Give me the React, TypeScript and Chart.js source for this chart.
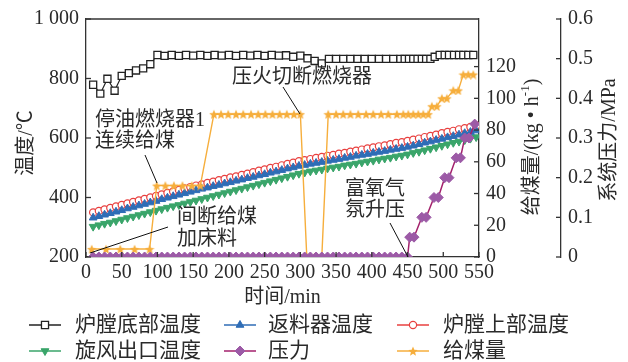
import React, { useEffect, useRef } from 'react';
import { Chart, registerables } from 'chart.js';
import { drawPoint } from 'chart.js/helpers';

Chart.register(...registerables);

const FONT = '"Liberation Serif", "Noto Sans CJK SC", serif';
const TEXT = '#2a2a2a';
const AXIS = '#333333';

// ---- data ----
const bottomTime = [10, 20, 30, 40, 50, 60, 70, 80, 90, 100, 110, 120, 130, 140, 150, 160, 170, 180, 190, 200, 210, 220, 230, 240, 250, 260, 270, 280, 290, 300, 310, 320, 330, 340, 350, 360, 370, 380, 390, 400, 410, 420, 430, 440, 446, 452, 458, 464, 470, 476, 482, 488, 495, 502, 508, 515, 522, 528, 535, 542];
const bottomTemp = [779, 749, 799, 759, 809, 818, 827, 834, 848, 879, 876, 879, 876, 879, 877, 879, 876, 879, 877, 879, 876, 879, 877, 879, 876, 879, 877, 878, 873, 877, 868, 859, 851, 866, 866, 866, 866, 866, 866, 866, 866, 866, 866, 866, 866, 866, 866, 866, 866, 866, 866, 873, 879, 879, 879, 879, 879, 879, 879, 879];

const tempTime = [10, 18, 26, 34, 42, 50, 58, 66, 74, 82, 90, 98, 106, 114, 122, 130, 138, 146, 154, 162, 170, 178, 186, 194, 202, 210, 218, 226, 234, 242, 250, 258, 266, 274, 282, 290, 298, 306, 314, 322, 330, 338, 346, 354, 362, 370, 378, 386, 394, 402, 410, 418, 426, 434, 442, 450, 458, 466, 474, 482, 490, 498, 506, 514, 522, 530, 538, 546];
const returnTemp = [332, 337, 342, 347, 352, 357, 363, 368, 373, 378, 383, 388, 394, 399, 404, 409, 414, 419, 424, 429, 433, 438, 442, 447, 451, 456, 460, 465, 469, 474, 478, 483, 487, 492, 497, 501, 506, 509, 513, 516, 519, 523, 526, 529, 533, 536, 540, 543, 546, 550, 553, 556, 560, 563, 566, 570, 574, 579, 584, 588, 593, 597, 602, 606, 611, 616, 620, 625];
const upperTemp = [350, 355, 360, 365, 370, 375, 380, 385, 390, 395, 400, 405, 410, 415, 420, 425, 430, 435, 440, 444, 449, 453, 458, 462, 467, 471, 476, 480, 485, 490, 494, 499, 503, 508, 513, 517, 522, 525, 529, 533, 536, 540, 543, 547, 550, 554, 557, 561, 565, 568, 572, 575, 579, 583, 586, 590, 594, 598, 603, 607, 611, 616, 620, 624, 629, 633, 637, 642];
const cycloneTemp = [302, 307, 312, 316, 321, 326, 331, 336, 341, 346, 351, 356, 361, 366, 371, 375, 380, 385, 390, 395, 400, 405, 410, 415, 420, 425, 430, 435, 440, 445, 450, 455, 460, 465, 470, 475, 480, 484, 488, 491, 494, 498, 501, 504, 508, 511, 514, 518, 521, 524, 528, 531, 534, 538, 541, 545, 550, 554, 559, 564, 569, 574, 579, 584, 588, 593, 598, 603];

const pressureTime = [10, 18, 26, 34, 42, 50, 58, 66, 74, 82, 90, 98, 106, 114, 122, 130, 138, 146, 154, 162, 170, 178, 186, 194, 202, 210, 218, 226, 234, 242, 250, 258, 266, 274, 282, 290, 298, 306, 314, 322, 330, 338, 346, 354, 362, 370, 378, 386, 394, 402, 410, 418, 426, 434, 442, 450, 453, 459, 470, 476, 487, 493, 502, 508, 518, 524, 530, 536, 544];
const pressure = [0, 0, 0, 0, 0, 0, 0, 0, 0, 0, 0, 0, 0, 0, 0, 0, 0, 0, 0, 0, 0, 0, 0, 0, 0, 0, 0, 0, 0, 0, 0, 0, 0, 0, 0, 0, 0, 0, 0, 0, 0, 0, 0, 0, 0, 0, 0, 0, 0, 0, 0, 0, 0, 0, 0, 0, 0.05, 0.05, 0.1, 0.1, 0.15, 0.15, 0.2, 0.2, 0.25, 0.25, 0.3, 0.3, 0.335];

const feedTime = [8, 28, 48, 68, 89, 99, 111, 123, 135, 148, 160, 179, 189, 199, 210, 220, 231, 241, 251, 261, 271, 281, 291, 300, 309, 320, 330, 339, 350, 360, 370, 381, 392, 402, 413, 423, 435, 444, 451, 458, 465, 472, 479, 484, 491, 498, 505, 514, 521, 528, 535, 542];
const feedRate = [5, 5, 5, 5, 5, 45, 45, 45, 45, 45, 45, 90, 90, 90, 90, 90, 90, 90, 90, 90, 90, 90, 90, 90, 0, 0, 0, 90, 90, 90, 90, 90, 90, 90, 90, 90, 90, 90, 90, 90, 90, 90, 90, 95, 95, 100, 100, 105, 105, 115, 115, 115];

const seriesNames = ['炉膛底部温度', '返料器温度', '炉膛上部温度', '旋风出口温度', '压力', '给煤量'];

const xMin = 0, xMax = 550, xStep = 50;
const tempMin = 200, tempMax = 1000, tempStep = 200;
const feedMin = 0, feedMax = 150, feedStep = 20, feedLastTick = 140;
const presMin = 0, presMax = 0.6, presStep = 0.1;

const BLACK = '#222222';
const BLUE = '#2f6db6';
const RED = '#e8403f';
const GREEN = '#3aa56a';
const PURPLE_LINE = '#a3216c';
const PURPLE = '#9c5aa6';
const ORANGE = '#f6ae3c';

const pts = (xs: number[], ys: number[]) => xs.map((x, i) => ({ x, y: ys[i] }));

function makeStar(size: number, color: string) {
  const c = document.createElement('canvas');
  c.width = size;
  c.height = size;
  const g = c.getContext('2d')!;
  const R = size / 2;
  const r = R * 0.45;
  g.beginPath();
  for (let i = 0; i < 10; i++) {
    const a = -Math.PI / 2 + (i * Math.PI) / 5;
    const rr = i % 2 === 0 ? R : r;
    g.lineTo(R + rr * Math.cos(a), R + 0.6 + rr * Math.sin(a));
  }
  g.closePath();
  g.fillStyle = color;
  g.fill();
  return c;
}

type Part = { t: string; size?: number; dy?: number };

function drawRotated(ctx: CanvasRenderingContext2D, parts: Part[], cx: number, cy: number) {
  ctx.save();
  ctx.translate(cx, cy);
  ctx.rotate(-Math.PI / 2);
  ctx.textAlign = 'left';
  ctx.textBaseline = 'middle';
  let total = 0;
  const widths = parts.map((p) => {
    ctx.font = `${p.size || 20}px ${FONT}`;
    const w = ctx.measureText(p.t).width;
    total += w;
    return w;
  });
  let x = -total / 2;
  parts.forEach((p, i) => {
    ctx.font = `${p.size || 20}px ${FONT}`;
    ctx.fillText(p.t, x, p.dy || 0);
    x += widths[i];
  });
  ctx.restore();
}

const overlay = {
  id: 'overlay',
  afterDraw(chart: any) {
    const ctx = chart.ctx as CanvasRenderingContext2D;
    const { left, right, top, bottom } = chart.chartArea;
    const sx = chart.scales.x;
    const sy = chart.scales.y;
    const s1 = chart.scales.y1;
    const s2 = chart.scales.y2;
    ctx.save();
    ctx.strokeStyle = AXIS;
    ctx.lineWidth = 1.3;
    const seg = (a: number, b: number, c: number, d: number) => {
      ctx.beginPath();
      ctx.moveTo(a, b);
      ctx.lineTo(c, d);
      ctx.stroke();
    };
    seg(left, top, right, top);
    const TL = 5;
    sx.ticks.forEach((t: any) => {
      const p = sx.getPixelForValue(t.value);
      seg(p, bottom, p, bottom - TL);
    });
    sy.ticks.forEach((t: any) => {
      const p = sy.getPixelForValue(t.value);
      seg(left, p, left + TL, p);
    });
    s1.ticks.forEach((t: any) => {
      const p = s1.getPixelForValue(t.value);
      seg(right, p, right - TL, p);
    });
    s2.ticks.forEach((t: any) => {
      const p = s2.getPixelForValue(t.value);
      seg(s2.left, p, s2.left - TL, p);
    });

    // axis titles
    ctx.fillStyle = TEXT;
    ctx.textAlign = 'center';
    ctx.textBaseline = 'middle';
    ctx.font = `20px ${FONT}`;
    ctx.fillText('时间/min', (left + right) / 2, 298);
    drawRotated(ctx, [{ t: '温度/℃' }], 27, 143);
    drawRotated(ctx, [{ t: '给煤量/(kg • h' }, { t: '-1', size: 13, dy: -7 }, { t: ')' }], 533, 147);
    drawRotated(ctx, [{ t: '系统压力/MPa' }], 610, 140);

    // annotations
    ctx.textAlign = 'left';
    ctx.font = `20px ${FONT}`;
    ctx.fillText('压火切断燃烧器', 232, 78);
    ctx.fillText('停油燃烧器1', 95, 121);
    ctx.fillText('连续给煤', 95, 142);
    ctx.fillText('间断给煤', 177, 218);
    ctx.fillText('加床料', 177, 240);
    ctx.fillText('富氧气', 345, 190);
    ctx.fillText('氛升压', 345, 211);
    ctx.strokeStyle = '#111';
    ctx.lineWidth = 1;
    seg(283, 87, 300, 114);
    seg(145, 155, 157, 183);
    seg(168, 227, 90, 253);
    seg(390, 223, 408, 257);

    // legend
    const cols = [
      { l0: 29, l1: 61, tx: 75 },
      { l0: 224, l1: 256, tx: 268 },
      { l0: 397, l1: 429, tx: 443 },
    ];
    const rows = [325, 351];
    const dsets = chart.data.datasets;
    ctx.font = `21px ${FONT}`;
    ctx.textBaseline = 'middle';
    dsets.forEach((ds: any, i: number) => {
      const col = cols[i % 3];
      const y = rows[Math.floor(i / 3)];
      ctx.strokeStyle = ds.borderColor;
      ctx.lineWidth = 1.5;
      seg(col.l0, y, col.l1, y);
      ctx.fillStyle = ds.pointBackgroundColor;
      ctx.strokeStyle = ds.pointBorderColor;
      ctx.lineWidth = ds.pointBorderWidth;
      drawPoint(ctx, {
        pointStyle: ds.pointStyle,
        rotation: ds.pointRotation || 0,
        radius: ds.pointRadius,
        borderWidth: ds.pointBorderWidth,
      } as any, (col.l0 + col.l1) / 2, y);
      ctx.fillStyle = TEXT;
      ctx.fillText(ds.label, col.tx, y);
    });
    ctx.restore();
  },
};

export default function App() {
  const ref = useRef<HTMLCanvasElement>(null);
  useEffect(() => {
    document.body.style.margin = '0';
    const star = makeStar(10, ORANGE);
    const tickFont = { family: FONT, size: 20 };
    const chart = new Chart(ref.current!, {
      type: 'line',
      data: {
        datasets: [
          {
            label: seriesNames[0],
            data: pts(bottomTime, bottomTemp),
            yAxisID: 'y',
            borderColor: BLACK,
            borderWidth: 1.2,
            pointStyle: 'rect',
            pointRadius: 5,
            pointBackgroundColor: '#ffffff',
            pointBorderColor: BLACK,
            pointBorderWidth: 1.3,
            order: 2,
          },
          {
            label: seriesNames[1],
            data: pts(tempTime, returnTemp),
            yAxisID: 'y',
            borderColor: BLUE,
            borderWidth: 1.2,
            pointStyle: 'triangle',
            pointRadius: 4.5,
            pointBackgroundColor: BLUE,
            pointBorderColor: BLUE,
            pointBorderWidth: 1,
            order: 3,
          },
          {
            label: seriesNames[2],
            data: pts(tempTime, upperTemp),
            yAxisID: 'y',
            borderColor: RED,
            borderWidth: 1.2,
            pointStyle: 'circle',
            pointRadius: 3.6,
            pointBackgroundColor: '#ffffff',
            pointBorderColor: RED,
            pointBorderWidth: 1.2,
            order: 4,
          },
          {
            label: seriesNames[3],
            data: pts(tempTime, cycloneTemp),
            yAxisID: 'y',
            borderColor: GREEN,
            borderWidth: 1.2,
            pointStyle: 'triangle',
            pointRotation: 180,
            pointRadius: 4.5,
            pointBackgroundColor: GREEN,
            pointBorderColor: GREEN,
            pointBorderWidth: 1,
            order: 5,
          },
          {
            label: seriesNames[4],
            data: pts(pressureTime, pressure),
            yAxisID: 'y2',
            borderColor: PURPLE_LINE,
            borderWidth: 1.5,
            pointStyle: 'rectRot',
            pointRadius: 5,
            pointBackgroundColor: PURPLE,
            pointBorderColor: PURPLE,
            pointBorderWidth: 1,
            order: 0,
          },
          {
            label: seriesNames[5],
            data: pts(feedTime, feedRate),
            yAxisID: 'y1',
            borderColor: ORANGE,
            borderWidth: 1.4,
            pointStyle: star as any,
            pointRadius: 5,
            pointBackgroundColor: ORANGE,
            pointBorderColor: ORANGE,
            pointBorderWidth: 0,
            order: 1,
          },
        ] as any,
      },
      options: {
        animation: false,
        responsive: true,
        maintainAspectRatio: false,
        events: [],
        layout: { padding: { top: 17, bottom: 48, left: 0, right: 0 } },
        plugins: { legend: { display: false }, tooltip: { enabled: false } },
        scales: {
          x: {
            type: 'linear',
            min: xMin,
            max: xMax,
            ticks: { stepSize: xStep, padding: 4, font: tickFont, color: TEXT, maxRotation: 0, autoSkip: false },
            grid: { display: false, drawTicks: false },
            border: { color: AXIS, width: 1.3 },
            afterFit: (s: any) => { s.height = 57; },
          },
          y: {
            position: 'left',
            min: tempMin,
            max: tempMax,
            ticks: {
              stepSize: tempStep,
              padding: 7,
              font: tickFont,
              color: TEXT,
              callback: (v: any) => (v === 1000 ? '1 000' : String(v)),
            },
            grid: { display: false, drawTicks: false },
            border: { color: AXIS, width: 1.3 },
            afterFit: (s: any) => { s.width = 86; },
          },
          y1: {
            position: 'right',
            weight: 0,
            min: feedMin,
            max: feedMax,
            ticks: { stepSize: feedStep, padding: 7, font: tickFont, color: TEXT },
            afterBuildTicks: (s: any) => { s.ticks = s.ticks.filter((t: any) => t.value <= feedLastTick); },
            grid: { display: false, drawTicks: false },
            border: { color: AXIS, width: 1.3 },
            afterFit: (s: any) => { s.width = 82; },
          },
          y2: {
            position: 'right',
            weight: 1,
            min: presMin,
            max: presMax,
            ticks: {
              stepSize: presStep,
              padding: 7,
              font: tickFont,
              color: TEXT,
              callback: (v: any) => (Math.abs(v) < 1e-9 ? '0' : Number(v).toFixed(1)),
            },
            grid: { display: false, drawTicks: false },
            border: { color: AXIS, width: 1.3 },
            afterFit: (s: any) => { s.width = 67; },
          },
        },
      } as any,
      plugins: [overlay as any],
    });
    return () => chart.destroy();
  }, []);
  return (
    <div style={{ width: 628, height: 362, position: 'relative' }}>
      <canvas ref={ref} />
    </div>
  );
}
